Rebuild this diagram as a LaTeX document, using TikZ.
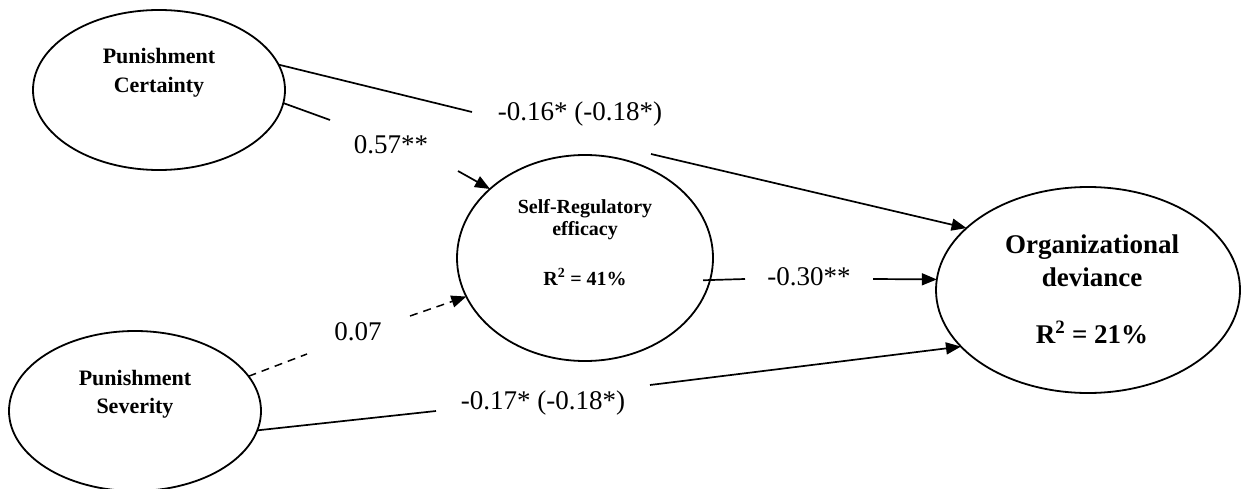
\documentclass[tikz,border=0pt]{standalone}
\usepackage{fontspec}
\setmainfont{Liberation Serif}
\usetikzlibrary{arrows.meta,shapes.geometric}
\begin{document}
\begin{tikzpicture}[x=1pt,y=-1pt,
  latent/.style={draw, ellipse, line width=1.8pt, inner sep=0pt, outer sep=0pt},
  conn/.style={line width=1.7pt},
  tipped/.style={-{Triangle[length=15pt,width=12pt]}},
  dashconn/.style={line width=1.5pt, dash pattern=on 8pt off 6pt},
  coef/.style={font=\fontsize{27}{32}\selectfont, anchor=base, inner sep=0pt},
  pstext/.style={font=\bfseries\fontsize{22}{26}\selectfont, anchor=base, inner sep=0pt},
  sretext/.style={font=\bfseries\fontsize{20}{24}\selectfont, anchor=base, inner sep=0pt},
  odtext/.style={font=\bfseries\fontsize{27}{32}\selectfont, anchor=base, inner sep=0pt}
]
\useasboundingbox (0,0) rectangle (1241,489);

% ellipses
\node[latent, minimum width=252pt, minimum height=160pt] (pc) at (159,90) {};
\node[latent, minimum width=252pt, minimum height=160pt] (ps) at (135,411) {};
\node[latent, minimum width=256pt, minimum height=206pt] (sre) at (585,258) {};
\node[latent, minimum width=304pt, minimum height=206pt] (od) at (1088,290) {};

% ellipse texts
\node[pstext] (pc1) at (159,64) {Punishment};
\node[pstext] (pc2) at (159,93) {Certainty};
\node[pstext] (ps1) at (135,385) {Punishment};
\node[pstext] (ps2) at (135,413) {Severity};
\node[sretext] (sre1) at (585,213) {Self-Regulatory};
\node[sretext] (sre2) at (585,235) {efficacy};
\node[sretext] (sre3) at (585,285) {R\textsuperscript{2} = 41\%};
\node[odtext] (od1) at (1092,253) {Organizational};
\node[odtext] (od2) at (1092,286) {deviance};
\node[odtext] (od3) at (1092,343) {R\textsuperscript{2} = 21\%};

% coefficient labels
\node[coef] (l1) at (580,121) {-0.16* (-0.18*)};
\node[coef] (l2) at (391,154) {0.57**};
\node[coef] (l3) at (358,340) {0.07};
\node[coef] (l4) at (809,285) {-0.30**};
\node[coef] (l5) at (543,409) {-0.17* (-0.18*)};

% gap end points
\coordinate (a1) at (472,112); \coordinate (a2) at (651,154);
\coordinate (b1) at (330,120); \coordinate (b2) at (458,171);
\coordinate (c1) at (307,354); \coordinate (c2) at (410,316);
\coordinate (d1) at (436,411); \coordinate (d2) at (650,385);
\coordinate (e1) at (745,279); \coordinate (e2) at (873,279);

% connectors
\draw[conn] (pc.12) -- (a1);
\draw[conn,tipped] (a2) -- (od.153);
\draw[conn] (pc.-6) -- (b1);
\draw[conn,tipped] (b2) -- (sre.144);
\draw[dashconn] (ps.17) -- (c1);
\draw[dashconn,tipped] (c2) -- (sre.198);
\draw[conn] (ps.-9) -- (d1);
\draw[conn,tipped] (d2) -- (od.204);
\draw[conn, shorten <=-7pt] (sre.-10) -- (e1);
\draw[conn,tipped] (e2) -- (od.176);
\end{tikzpicture}
\end{document}
